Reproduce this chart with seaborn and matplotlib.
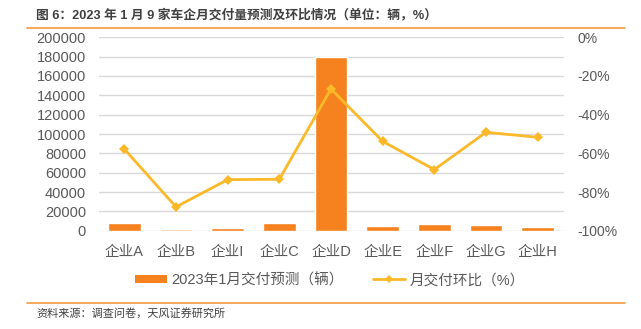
import numpy as np
import pandas as pd
import matplotlib
matplotlib.use("Agg")
import matplotlib.pyplot as plt
from matplotlib.patches import Patch
from matplotlib.lines import Line2D
import seaborn as sns

# Data
companies = ["企业A", "企业B", "企业I", "企业C", "企业D", "企业E", "企业F", "企业G", "企业H"]
deliveries = [8000, 1700, 2800, 8000, 180000, 4500, 7200, 6200, 3500]
mom_change = [-57.8, -87.7, -73.6, -73.4, -26.7, -53.8, -68.4, -49.1, -51.7]

title_text = "图 6：2023 年 1 月 9 家车企月交付量预测及环比情况（单位：辆，%）"
source_text = "资料来源：调查问卷，天风证券研究所"
bar_label = "2023年1月交付预测（辆）"
line_label = "月交付环比（%）"

sns.set_theme(style="white")
plt.rcParams["font.family"] = ["Liberation Sans", "Noto Sans CJK SC", "DejaVu Sans"]

bar_color = "#F5821F"
bar_light = "#F7C59C"
line_color = "#FBB829"
grid_color = "#D9D9D9"
text_color = "#595959"
rule_color = "#F39A3E"

df = pd.DataFrame({"company": companies, "deliveries": deliveries, "mom": mom_change})
bar_palette = [bar_light if c == "企业B" else bar_color for c in companies]

fig = plt.figure(figsize=(6.41, 3.29), dpi=100)
ax = fig.add_axes([98.5 / 641, 1 - 230.7 / 329, 465 / 641, 193.4 / 329])

sns.barplot(data=df, x="company", y="deliveries", hue="company", palette=bar_palette,
            legend=False, width=0.63, saturation=1, ax=ax, zorder=2)
ax.set_ylim(0, 200000)
ax.set_yticks(np.arange(0, 200001, 20000))
ax.set_xlim(-0.5, len(companies) - 0.5)
ax.yaxis.grid(True, color=grid_color, linewidth=1.0, zorder=0)
ax.set_axisbelow(True)
ax.set_xlabel("")
ax.set_ylabel("")
for s in ax.spines.values():
    s.set_visible(False)
ax.tick_params(axis="y", length=0, pad=9, labelsize=10.5, labelcolor=text_color)
ax.tick_params(axis="x", length=0, pad=10, labelsize=10.5, labelcolor=text_color)

ax2 = ax.twinx()
sns.lineplot(x=np.arange(len(companies)), y=mom_change, ax=ax2, color=line_color,
             linewidth=2.0, marker="D", markersize=5, markeredgewidth=0, zorder=3)
ax2.set_ylim(-100, 0)
ax2.set_yticks(np.arange(-100, 1, 20))
ax2.set_yticklabels([f"{v}%" for v in range(-100, 1, 20)])
ax2.set_xlim(-0.5, len(companies) - 0.5)
for s in ax2.spines.values():
    s.set_visible(False)
ax2.tick_params(axis="y", length=0, pad=10, labelsize=10, labelcolor=text_color)
ax2.grid(False)

handles = [
    Patch(facecolor=bar_color, edgecolor="none"),
    Line2D([], [], color=line_color, linewidth=2.0, marker="D", markersize=4, markeredgewidth=0),
]
fig.legend(handles, [bar_label, line_label], loc="center", bbox_to_anchor=(330 / 641, 1 - 280 / 329),
           ncol=2, frameon=False, fontsize=10.5, labelcolor=text_color, handlelength=2.2,
           handleheight=0.55, handletextpad=0.3, columnspacing=2.0)

fig.text(36 / 641, 1 - 15 / 329, title_text, fontsize=9.2, fontweight="bold", color="#404040",
         va="center", ha="left")
fig.text(36 / 641, 1 - 313 / 329, source_text, fontsize=8, color="#404040", va="center", ha="left")

fig.add_artist(Line2D([27 / 641, 625 / 641], [1 - 28 / 329, 1 - 28 / 329], color=rule_color, linewidth=1.2))
fig.add_artist(Line2D([27 / 641, 625 / 641], [1 - 303 / 329, 1 - 303 / 329], color=rule_color, linewidth=1.2))

fig.savefig("out.png", dpi=100)
